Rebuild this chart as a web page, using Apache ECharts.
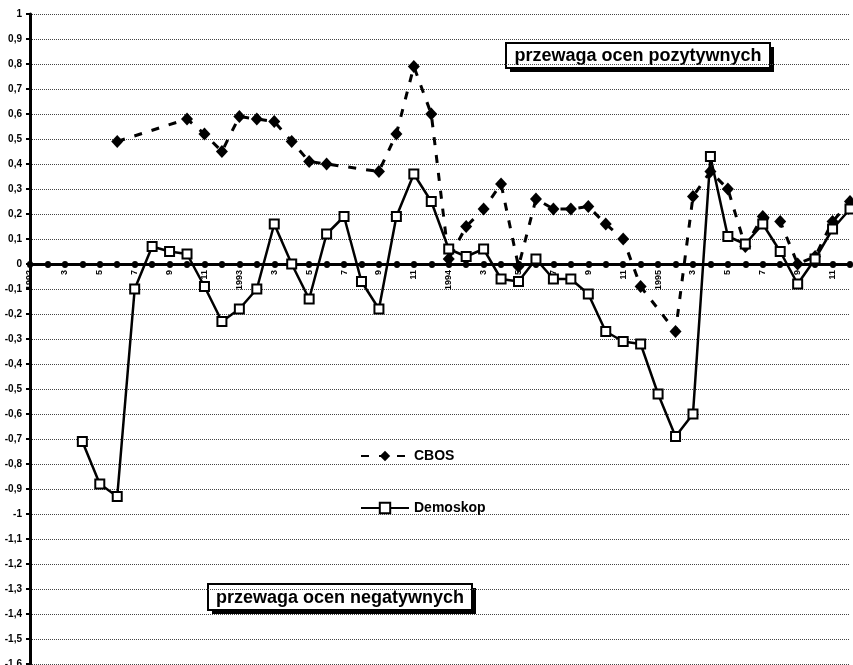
<!DOCTYPE html>
<html>
<head>
<meta charset="utf-8">
<script src="https://cdn.jsdelivr.net/npm/echarts@6/dist/echarts.min.js"></script>
<style>
html,body{margin:0;padding:0;background:#fff;}
#chart{width:853px;height:665px;}
</style>
</head>
<body>
<div id="chart"></div>
<script>
// Month categories Jan 1992 .. Dec 1995 (tick labels shown every 2nd month)
const categories = [
  '1992','2','3','4','5','6','7','8','9','10','11','12',
  '1993','2','3','4','5','6','7','8','9','10','11','12',
  '1994','2','3','4','5','6','7','8','9','10','11','12',
  '1995','2','3','4','5','6','7','8','9','10','11','12'
];
const seriesNames = ['CBOS', 'Demoskop'];
const cbos = [null,null,null,null,null,0.49,null,null,null,0.58,0.52,0.45,
  0.59,0.58,0.57,0.49,0.41,0.40,null,null,0.37,0.52,0.79,0.60,
  0.02,0.15,0.22,0.32,-0.01,0.26,0.22,0.22,0.23,0.16,0.10,-0.09,
  null,-0.27,0.27,0.37,0.30,0.07,0.19,0.17,0.00,0.03,0.17,0.25];
const demoskop = [null,null,null,-0.71,-0.88,-0.93,-0.10,0.07,0.05,0.04,-0.09,-0.23,
  -0.18,-0.10,0.16,0.00,-0.14,0.12,0.19,-0.07,-0.18,0.19,0.36,0.25,
  0.06,0.03,0.06,-0.06,-0.07,0.02,-0.06,-0.06,-0.12,-0.27,-0.31,-0.32,
  -0.52,-0.69,-0.60,0.43,0.11,0.08,0.16,0.05,-0.08,0.02,0.14,0.22];
const yMin = -1.6, yMax = 1, yStep = 0.1;
const notePositive = 'przewaga ocen pozytywnych';
const noteNegative = 'przewaga ocen negatywnych';

const FONT = '"Liberation Sans", Arial, sans-serif';
const GRID = {left:30, right:3, top:14, bottom:1};
const PLOT_H = 665 - GRID.top - GRID.bottom;
// distance of the value 0 from the bottom edge of the plot (keeps the x axis on zero)
const zeroFromBottom = PLOT_H * (0 - yMin) / (yMax - yMin);

const chart = echarts.init(document.getElementById('chart'), null, {renderer:'canvas'});

function boxNote(text, left, top, w, h){
  return {
    type:'group', left:left, top:top,
    children:[
      {type:'rect', shape:{x:4,y:4,width:w,height:h}, style:{fill:'#000'}},
      {type:'rect', shape:{x:0,y:0,width:w,height:h}, style:{fill:'#fff', stroke:'#000', lineWidth:2}},
      {type:'text', x:w/2, y:h/2+1, style:{text:text, fill:'#000', font:'bold 18px ' + FONT, align:'center', verticalAlign:'middle'}}
    ]
  };
}

chart.setOption({
  animation:false,
  backgroundColor:'#fff',
  grid:Object.assign({containLabel:false, outerBoundsMode:'none'}, GRID),
  xAxis:{
    type:'category', data:categories, boundaryGap:false,
    position:'bottom', offset:-zeroFromBottom,
    axisLine:{onZero:false, lineStyle:{color:'#000', width:3}},
    axisTick:{show:true, interval:0, length:1, lineStyle:{color:'#000', width:6, cap:'round'}},
    axisLabel:{interval:1, rotate:90, fontSize:9, fontWeight:'bold', color:'#000', margin:6, fontFamily:FONT},
    splitLine:{show:false}
  },
  yAxis:{
    type:'value', min:yMin, max:yMax, interval:yStep,
    axisLine:{show:true, onZero:false, lineStyle:{color:'#000', width:3}},
    axisTick:{show:true, length:4, lineStyle:{color:'#000', width:2}},
    axisLabel:{
      fontSize:10, fontWeight:'bold', color:'#000', margin:8, fontFamily:FONT,
      formatter:function(v){ const r = Math.round(v*10)/10; return (r === 0 ? '0' : String(r)).replace('.', ','); }
    },
    splitLine:{show:true, lineStyle:{type:'dotted', color:'#444', width:1}}
  },
  legend:{
    data:seriesNames, orient:'vertical', left:360, top:449, padding:0,
    itemWidth:48, itemHeight:13, itemGap:38,
    textStyle:{fontSize:14, fontWeight:'bold', color:'#000', fontFamily:FONT}
  },
  series:[
    {
      name:seriesNames[0], type:'line', data:cbos, connectNulls:true,
      symbol:'diamond', symbolSize:[12,13], showSymbol:true, showAllSymbol:true,
      itemStyle:{color:'#000'},
      lineStyle:{color:'#000', width:3, type:[8,10]},
      z:3
    },
    {
      name:seriesNames[1], type:'line', data:demoskop, connectNulls:false,
      symbol:'rect', symbolSize:9, showSymbol:true, showAllSymbol:true,
      itemStyle:{color:'#fff', borderColor:'#000', borderWidth:2},
      lineStyle:{color:'#000', width:2.5, type:'solid'},
      z:4
    }
  ],
  graphic:[
    boxNote(notePositive, 505, 42, 264, 25),
    boxNote(noteNegative, 207, 583, 264, 26)
  ]
});
</script>
</body>
</html>
